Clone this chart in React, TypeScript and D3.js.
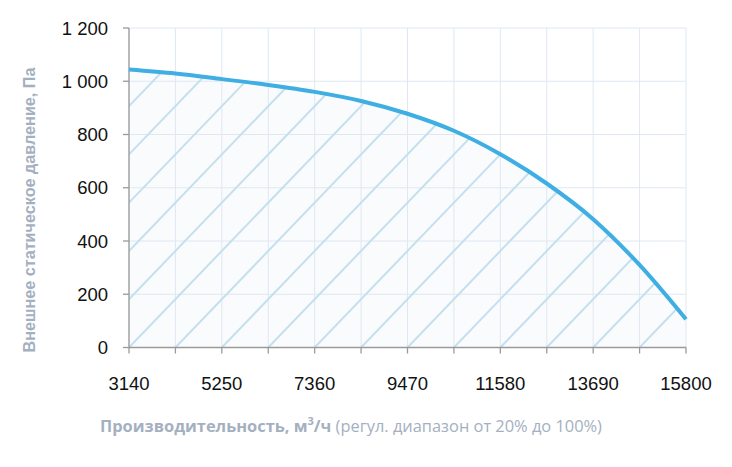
import * as d3 from 'd3'

const flow = [3140, 4195, 5250, 6305, 7360, 8415, 9470, 10525, 11580, 12635, 13690, 14745, 15800]
const pressure = [1044, 1029, 1008, 986, 960, 926, 878, 814, 726, 616, 482, 310, 106]
const xTickLabels = [3140, 5250, 7360, 9470, 11580, 13690, 15800]
const yTicks = [0, 200, 400, 600, 800, 1000, 1200]

const W = 732
const H = 467
const left = 129
const right = 686
const top = 28
const bottom = 347.5

export default function App() {
  const x = d3.scaleLinear().domain([3140, 15800]).range([left, right])
  const y = d3.scaleLinear().domain([0, 1200]).range([bottom, top])
  const pts: [number, number][] = flow.map((f, i) => [f, pressure[i]])

  const line = d3.line<[number, number]>().x(d => x(d[0])).y(d => y(d[1])).curve(d3.curveMonotoneX)
  const area = d3.area<[number, number]>().x(d => x(d[0])).y0(y(0)).y1(d => y(d[1])).curve(d3.curveMonotoneX)

  const step = 1055
  const vGrid = d3.range(3140, 15801, step)
  const sp = x(3140 + step) - x(3140)
  const hatch: number[] = d3.range(-8, 14).map(k => left + k * sp)
  const fmt = (v: number) => (v >= 1000 ? `${Math.floor(v / 1000)} ${String(v % 1000).padStart(3, '0')}` : String(v))

  return (
    <svg width={W} height={H} style={{ position: 'absolute', left: 0, top: 0, background: '#fff' }}>
      <defs>
        <clipPath id="areaClip">
          <path d={area(pts) || ''} />
        </clipPath>
      </defs>
      <path d={area(pts) || ''} fill="#fafbfc" />
      {vGrid.map(v => (
        <line key={'v' + v} x1={x(v)} x2={x(v)} y1={top} y2={bottom} stroke="#dfe8f2" strokeWidth={1} />
      ))}
      {yTicks.map(v => (
        <line key={'h' + v} x1={left} x2={right} y1={y(v)} y2={y(v)} stroke="#dfe8f2" strokeWidth={1} />
      ))}
      <g clipPath="url(#areaClip)">
        {hatch.map((hx, i) => (
          <line key={i} x1={hx} y1={bottom} x2={hx + 400} y2={bottom - 400 * 1.04} stroke="#c4e0ee" strokeWidth={2} />
        ))}
      </g>
      <line x1={left} x2={left} y1={top} y2={bottom} stroke="#9a9a9a" strokeWidth={1.3} />
      <line x1={left} x2={right} y1={bottom} y2={bottom} stroke="#9a9a9a" strokeWidth={1.3} />
      {yTicks.map(v => (
        <g key={'yt' + v}>
          <line x1={left - 6} x2={left} y1={y(v)} y2={y(v)} stroke="#9a9a9a" strokeWidth={1.3} />
          <text x={108} y={y(v) + 6.5} textAnchor="end" fontFamily="Liberation Sans, Arial, sans-serif" fontSize={18.5} fill="#111">
            {fmt(v)}
          </text>
        </g>
      ))}
      {vGrid.map(v => (
        <line key={'xt' + v} x1={x(v)} x2={x(v)} y1={bottom} y2={bottom + 6} stroke="#9a9a9a" strokeWidth={1.3} />
      ))}
      {xTickLabels.map(v => (
        <text key={'xl' + v} x={x(v)} y={390} textAnchor="middle" fontFamily="Liberation Sans, Arial, sans-serif" fontSize={18.5} fill="#111">
          {v}
        </text>
      ))}
      <path d={line(pts) || ''} fill="none" stroke="#3eaee3" strokeWidth={4} />
      <text
        transform={`translate(35, 210) rotate(-90)`}
        textAnchor="middle"
        fontFamily="Liberation Sans, Arial, sans-serif"
        fontWeight="bold"
        fontSize={16.2}
        fill="#a4b0bf"
      >
        Внешнее статическое давление, Па
      </text>
      <text x={351} y={432} textAnchor="middle" fontFamily="Open Sans, sans-serif" fontSize={16.4} fill="#a4b0bf">
        <tspan fontWeight="bold">Производительность, м</tspan>
        <tspan fontWeight="bold" dy={-7} fontSize={11}>3</tspan>
        <tspan fontWeight="bold" dy={7}>/ч</tspan>
        <tspan> (регул. диапазон от 20% до 100%)</tspan>
      </text>
    </svg>
  )
}
